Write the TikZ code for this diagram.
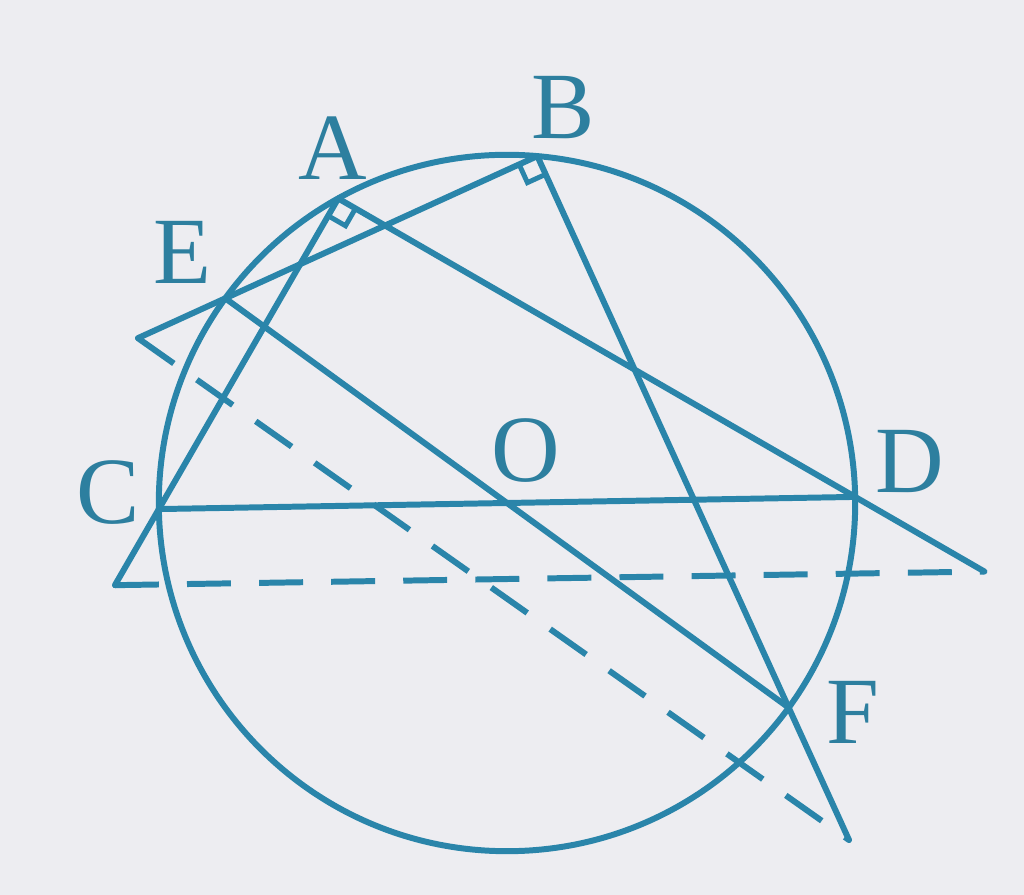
\documentclass[tikz,border=0pt]{standalone}
\usepackage{fontspec}
\setmainfont{Liberation Serif}
\usetikzlibrary{calc}
\definecolor{ink}{HTML}{2A85AA}
\definecolor{labelink}{HTML}{2D7F9F}
\definecolor{paper}{HTML}{EDEDF1}
\begin{document}
\begin{tikzpicture}[x=0.01cm,y=-0.01cm,
  geo/.style={draw=ink,line width=1.7pt,line cap=round,line join=round},
  dsh/.style={draw=ink,line width=1.7pt,line cap=butt,dash pattern=on 12.5pt off 8pt},
  rtmark/.style={draw=ink,line width=1.4pt,line join=miter},
  lbl/.style={text=labelink,font=\fontsize{27}{27}\selectfont,inner sep=0pt}]
\fill[paper] (0,0) rectangle (1024,895);
\useasboundingbox (0,0) rectangle (1024,895);
% points
\coordinate (O) at (507,503);
\coordinate (A) at ($(O)+(119:3.48cm)$);
\coordinate (B) at ($(O)+(85:3.48cm)$);
\coordinate (C) at ($(O)+(181:3.48cm)$);
\coordinate (D) at ($(O)+(1:3.48cm)$);
\coordinate (E) at ($(O)+(144:3.48cm)$);
\coordinate (F) at ($(O)+(-36:3.48cm)$);
\coordinate (P1) at ($(A)!1.245!(C)$);
\coordinate (P2) at ($(A)!1.25!(D)$);
\coordinate (Q1) at ($(B)!1.28!(E)$);
\coordinate (Q2) at ($(B)!1.24!(F)$);
% circle and diameters
\draw[geo] (O) circle[radius=3.48cm];
\draw[geo] (C) -- (D);
\draw[geo] (E) -- (F);
% right triangles
\draw[geo] (P1) -- (A) -- (P2);
\draw[geo] (Q1) -- (B) -- (Q2);
\draw[dsh] (P1) -- (P2);
\draw[dsh] (Q1) -- (Q2);
% right angle marks
\coordinate (a1) at ($(A)!0.2cm!(C)$);
\coordinate (a2) at ($(A)!0.2cm!(D)$);
\draw[rtmark] (a1) -- ($(a1)+(a2)-(A)$) -- (a2);
\coordinate (b1) at ($(B)!0.2cm!(E)$);
\coordinate (b2) at ($(B)!0.2cm!(F)$);
\draw[rtmark] (b1) -- ($(b1)+(b2)-(B)$) -- (b2);
% labels
\node[lbl] (lA) at (333,148) {A};
\node[lbl] (lB) at (563,108) {B};
\node[lbl] (lE) at (182,252) {E};
\node[lbl] (lC) at (108,493) {C};
\node[lbl] (lO) at (526,451) {O};
\node[lbl] (lD) at (910,462) {D};
\node[lbl] (lF) at (853,712) {F};
\end{tikzpicture}
\end{document}
